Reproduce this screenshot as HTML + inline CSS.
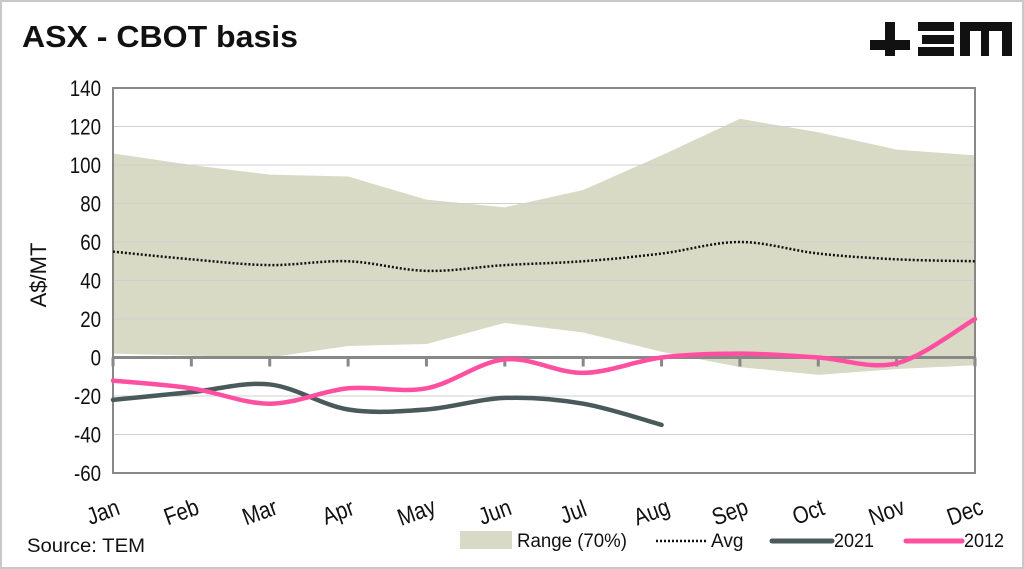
<!DOCTYPE html>
<html><head><meta charset="utf-8"><style>
body{margin:0;background:#fff;}
svg{display:block;font-family:"Liberation Sans",Arial,sans-serif;}
</style></head><body>
<svg width="1024" height="569" viewBox="0 0 1024 569">
<rect x="1" y="1" width="1022" height="567" fill="#fff" stroke="#c8c8c8" stroke-width="2"/>
<text x="22" y="47" font-size="31" font-weight="bold" fill="#111" textLength="276" lengthAdjust="spacingAndGlyphs">ASX - CBOT basis</text>
<g fill="#111">
<rect x="870" y="40" width="40" height="10"/><rect x="885" y="22" width="10" height="34"/>
<rect x="918" y="22" width="36" height="9"/><rect x="922" y="35" width="32" height="9"/><rect x="918" y="47" width="36" height="9"/>
<rect x="960" y="22" width="52" height="9"/><rect x="960" y="22" width="10" height="34"/><rect x="981" y="22" width="8" height="34"/><rect x="1002" y="22" width="10" height="34"/>
</g>
<g id="plot"></g>
<g>
<rect x="460" y="531" width="52" height="18" fill="#d8dac5"/>
<text x="517" y="547" font-size="19" fill="#111" textLength="110" lengthAdjust="spacingAndGlyphs">Range (70%)</text>
<line x1="656" y1="541" x2="708" y2="541" stroke="#111" stroke-width="2.5" stroke-dasharray="2,2"/>
<text x="711" y="547" font-size="19" fill="#111">Avg</text>
<line x1="772" y1="541" x2="832" y2="541" stroke="#4a5a5a" stroke-width="5" stroke-linecap="round"/>
<text x="834" y="547" font-size="19" fill="#111" textLength="40" lengthAdjust="spacingAndGlyphs">2021</text>
<line x1="906" y1="541" x2="962" y2="541" stroke="#ff4fa0" stroke-width="5" stroke-linecap="round"/>
<text x="964" y="547" font-size="19" fill="#111" textLength="40" lengthAdjust="spacingAndGlyphs">2012</text>
</g>
<text x="27" y="552" font-size="19" fill="#111" textLength="118" lengthAdjust="spacingAndGlyphs">Source: TEM</text>
</svg>
<script>
const months=["Jan","Feb","Mar","Apr","May","Jun","Jul","Aug","Sep","Oct","Nov","Dec"];
const yTicks=[140,120,100,80,60,40,20,0,-20,-40,-60];
const rangeHigh=[106,100,95,94,82,78,87,105,124,117,108,105];
const rangeLow=[2,1,0,6,7,18,13,3,-5,-9,-6,-4];
const avg=[55,51,48,50,45,48,50,54,60,54,51,50];
const s2021=[-22,-18,-14,-27,-27,-21,-24,-35];
const s2012=[-12,-16,-24,-16,-16,-1,-8,0,2,0,-3,20];
const NS="http://www.w3.org/2000/svg";
const L=113,R=975,T=88,B=473,YMAX=140,YMIN=-60;
const xs=i=>L+i*(R-L)/(months.length-1);
const ys=v=>T+(YMAX-v)*(B-T)/(YMAX-YMIN);
const g=document.getElementById('plot');
function mk(t,a){const e=document.createElementNS(NS,t);for(const k in a)e.setAttribute(k,a[k]);g.appendChild(e);return e;}
function smooth(vals){const p=vals.map((v,i)=>[xs(i),ys(v)]);let d="M"+p[0][0]+","+p[0][1];
for(let i=0;i<p.length-1;i++){const p0=p[i-1]||p[i],p1=p[i],p2=p[i+1],p3=p[i+2]||p2;
const c1=[p1[0]+(p2[0]-p0[0])/6,p1[1]+(p2[1]-p0[1])/6],c2=[p2[0]-(p3[0]-p1[0])/6,p2[1]-(p3[1]-p1[1])/6];
d+=" C"+c1+" "+c2+" "+p2;}return d;}
let d="M"+rangeHigh.map((v,i)=>xs(i)+","+ys(v)).join(" L")+" L"+rangeLow.map((v,i)=>xs(i)+","+ys(v)).reverse().join(" L")+"Z";
let e=mk('path',{d:d,fill:'#d8dac5'});


yTicks.forEach(v=>{
 if(v!==0&&v!==YMAX&&v!==YMIN){const l=mk('line',{x1:L,x2:R,y1:ys(v),y2:ys(v),stroke:'#cfcfcf','stroke-width':1});
 
 }
 const t=mk('text',{x:L-12,y:ys(v)+8,'text-anchor':'end','font-size':22,fill:'#111',transform:'translate('+(L-12)+' 0) scale(0.85 1) translate('+(-(L-12))+' 0)'});t.textContent=v;
 
 
});
e=mk('rect',{x:L,y:T,width:R-L,height:B-T,fill:'none',stroke:'#888','stroke-width':2});


e=mk('line',{x1:L,x2:R,y1:ys(0),y2:ys(0),stroke:'#888','stroke-width':3});


months.forEach((m,i)=>{
 const tk=mk('line',{x1:xs(i),x2:xs(i),y1:ys(0),y2:ys(0)+9,stroke:'#888','stroke-width':3});
 
 
 const cx=xs(i)-10;
 const t=mk('text',{x:cx,y:520,'text-anchor':'middle','font-size':24,fill:'#111',transform:'rotate(-20 '+cx+' 512) translate('+cx+' 0) scale(0.85 1) translate('+(-cx)+' 0)'});t.textContent=m;
 
 
});
e=mk('path',{d:smooth(avg),fill:'none',stroke:'#111','stroke-width':2.5,'stroke-dasharray':'2,2'});


e=mk('path',{d:smooth(s2021),fill:'none',stroke:'#4a5a5a','stroke-width':4.5,'stroke-linecap':'round'});


e=mk('path',{d:smooth(s2012),fill:'none',stroke:'#ff4fa0','stroke-width':4.5,'stroke-linecap':'round'});


const yt=mk('text',{x:0,y:0,'text-anchor':'middle','font-size':22,fill:'#111',transform:'translate(46 275) rotate(-90)'});yt.textContent="A$/MT";


</script>
</body></html>
